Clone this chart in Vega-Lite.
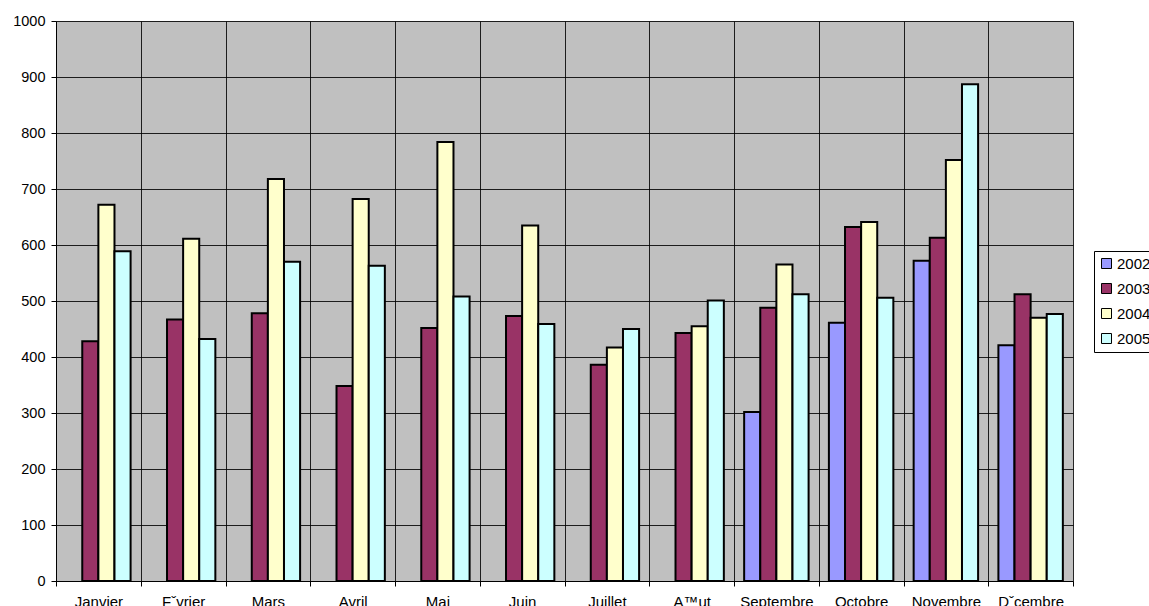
{
  "$schema": "https://vega.github.io/schema/vega-lite/v6.json",
  "width": 1017,
  "height": 560,
  "autosize": {"type": "none"},
  "padding": {"left": 56, "top": 21, "right": 76, "bottom": 25},
  "background": "white",
  "config": {
    "font": "Liberation Sans",
    "view": {"fill": "#C0C0C0", "stroke": null},
    "axis": {
      "labelFont": "Liberation Sans",
      "labelFontSize": 15,
      "labelColor": "#000",
      "domainColor": "#000",
      "domainWidth": 1,
      "tickColor": "#000",
      "tickSize": 5,
      "gridColor": "#000",
      "gridWidth": 1,
      "gridOpacity": 0.85
    },
    "legend": {
      "labelFont": "Liberation Sans",
      "labelFontSize": 15,
      "labelColor": "#000"
    }
  },
  "data": {
    "values": [
      {"month": "Janvier", "year": "2003", "value": 428},
      {"month": "Janvier", "year": "2004", "value": 672},
      {"month": "Janvier", "year": "2005", "value": 589},
      {"month": "Fˇvrier", "year": "2003", "value": 467},
      {"month": "Fˇvrier", "year": "2004", "value": 611},
      {"month": "Fˇvrier", "year": "2005", "value": 432},
      {"month": "Mars", "year": "2003", "value": 478},
      {"month": "Mars", "year": "2004", "value": 718},
      {"month": "Mars", "year": "2005", "value": 570},
      {"month": "Avril", "year": "2003", "value": 348},
      {"month": "Avril", "year": "2004", "value": 682},
      {"month": "Avril", "year": "2005", "value": 563},
      {"month": "Mai", "year": "2003", "value": 452},
      {"month": "Mai", "year": "2004", "value": 784},
      {"month": "Mai", "year": "2005", "value": 508},
      {"month": "Juin", "year": "2003", "value": 473},
      {"month": "Juin", "year": "2004", "value": 635},
      {"month": "Juin", "year": "2005", "value": 459},
      {"month": "Juillet", "year": "2003", "value": 386},
      {"month": "Juillet", "year": "2004", "value": 417},
      {"month": "Juillet", "year": "2005", "value": 450},
      {"month": "A™ut", "year": "2003", "value": 443},
      {"month": "A™ut", "year": "2004", "value": 455},
      {"month": "A™ut", "year": "2005", "value": 501},
      {"month": "Septembre", "year": "2002", "value": 302},
      {"month": "Septembre", "year": "2003", "value": 488},
      {"month": "Septembre", "year": "2004", "value": 565},
      {"month": "Septembre", "year": "2005", "value": 512},
      {"month": "Octobre", "year": "2002", "value": 461},
      {"month": "Octobre", "year": "2003", "value": 632},
      {"month": "Octobre", "year": "2004", "value": 641},
      {"month": "Octobre", "year": "2005", "value": 506},
      {"month": "Novembre", "year": "2002", "value": 572},
      {"month": "Novembre", "year": "2003", "value": 613},
      {"month": "Novembre", "year": "2004", "value": 752},
      {"month": "Novembre", "year": "2005", "value": 887},
      {"month": "Dˇcembre", "year": "2002", "value": 421},
      {"month": "Dˇcembre", "year": "2003", "value": 512},
      {"month": "Dˇcembre", "year": "2004", "value": 470},
      {"month": "Dˇcembre", "year": "2005", "value": 477}
    ]
  },
  "mark": {"type": "bar", "stroke": "#000", "strokeWidth": 2},
  "encoding": {
    "x": {
      "field": "month",
      "type": "nominal",
      "sort": ["Janvier", "Fˇvrier", "Mars", "Avril", "Mai", "Juin", "Juillet", "A™ut", "Septembre", "Octobre", "Novembre", "Dˇcembre"],
      "scale": {"paddingInner": 0, "paddingOuter": 0},
      "axis": {"title": null, "labelAngle": 0, "tickBand": "extent", "grid": true, "labelPadding": 8, "labelOverlap": false}
    },
    "xOffset": {
      "field": "year",
      "type": "nominal",
      "scale": {"domain": ["2002", "2003", "2004", "2005"], "paddingInner": 0, "paddingOuter": 0.63}
    },
    "y": {
      "field": "value",
      "type": "quantitative",
      "scale": {"domain": [0, 1000], "nice": false},
      "axis": {"title": null, "values": [0,100,200,300,400,500,600,700,800,900,1000], "format": "d", "labelOverlap": false, "labelFontSize": 14.5, "grid": true, "labelPadding": 6}
    },
    "color": {
      "field": "year",
      "type": "nominal",
      "scale": {"domain": ["2002", "2003", "2004", "2005"], "range": ["#9999FF", "#993366", "#FFFFCC", "#CCFFFF"]},
      "legend": {
        "title": null,
        "orient": "none",
        "legendX": 1038,
        "legendY": 230,
        "symbolType": "square",
        "symbolSize": 100,
        "symbolStrokeColor": "#000",
        "symbolStrokeWidth": 1,
        "symbolOpacity": 1,
        "labelOffset": 3,
        "rowPadding": 9,
        "padding": 5,
        "strokeColor": "#000",
        "fillColor": "#FFFFFF"
      }
    }
  }
}
